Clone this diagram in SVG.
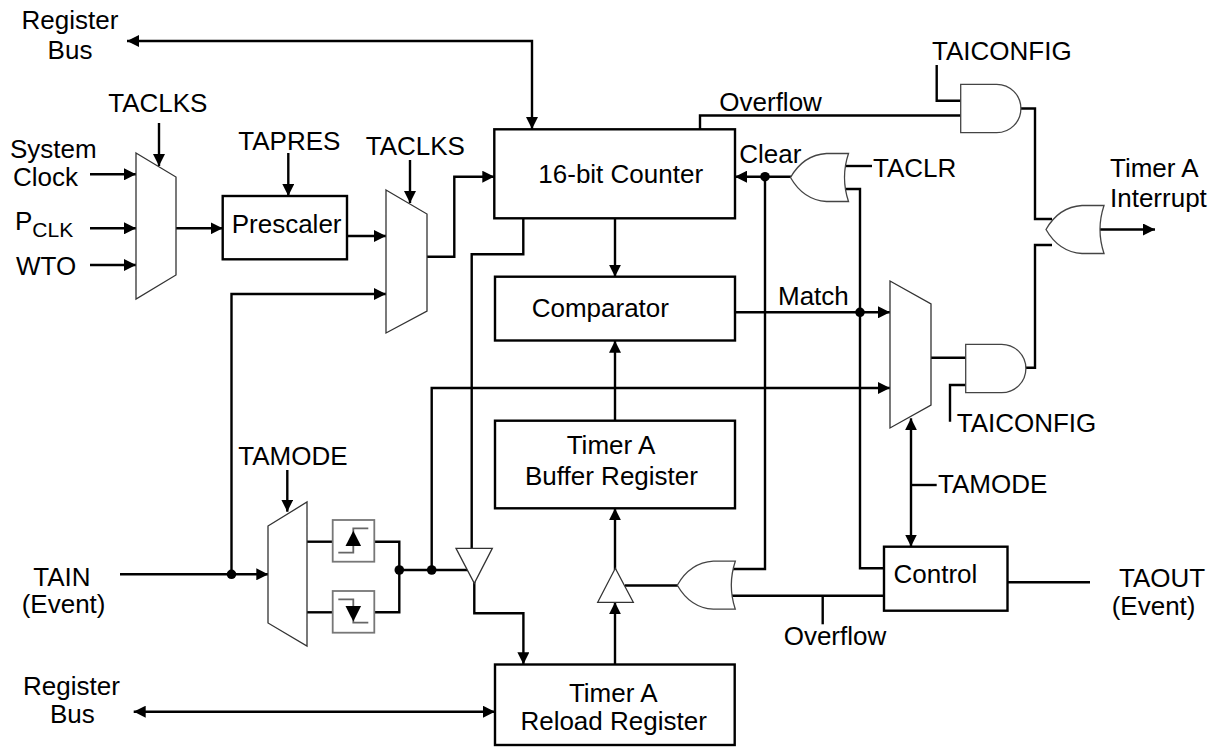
<svg xmlns="http://www.w3.org/2000/svg" width="1218" height="747" viewBox="0 0 1218 747">
<style>
.ln{fill:none;stroke:#000;stroke-width:2.4}
.box{fill:#fff;stroke:#000;stroke-width:2.4}
.thin{fill:#fff;stroke:#333;stroke-width:1.3}
.gate{fill:#fff;stroke:#444;stroke-width:1.3}
.edge{fill:#fff;stroke:#777;stroke-width:1.8}
.step{fill:none;stroke:#666;stroke-width:1.8}
.dot{fill:#000}
text{font-family:"Liberation Sans",Arial,sans-serif;font-size:26px;fill:#000}
</style>
<defs>
<marker id="ah" viewBox="0 0 12 12" refX="12" refY="6" markerWidth="12" markerHeight="12" markerUnits="userSpaceOnUse" orient="auto-start-reverse"><path d="M0,0 L12,6 L0,12 z" fill="#000"/></marker>
<path id="org" d="M0,0 C8,-14 20,-23 36,-24 L58,-24 Q50,0 58,24 L36,24 C20,23 8,14 0,0 Z"/>
<path id="andg" d="M0,0 H36 A24.2,24.2 0 0 1 36,48.4 H0 Z"/>
</defs>

<g id="connectors">
<path class="ln" d="M127,41 H532 V129" marker-start="url(#ah)" marker-end="url(#ah)"/>
<path class="ln" d="M159,123 V166" marker-end="url(#ah)"/>
<path class="ln" d="M90,174.3 H136" marker-end="url(#ah)"/>
<path class="ln" d="M90,228.3 H136" marker-end="url(#ah)"/>
<path class="ln" d="M90,265 H136" marker-end="url(#ah)"/>
<path class="ln" d="M176,228.3 H222.7" marker-end="url(#ah)"/>
<path class="ln" d="M288.3,153 V196" marker-end="url(#ah)"/>
<path class="ln" d="M347,236 H386" marker-end="url(#ah)"/>
<path class="ln" d="M410,160 V203" marker-end="url(#ah)"/>
<path class="ln" d="M231.5,574.3 V294 H386" marker-end="url(#ah)"/>
<path class="ln" d="M427,256.7 H454.3 V176.7 H494.3" marker-end="url(#ah)"/>
<path class="ln" d="M615,218.3 V276.7" marker-end="url(#ah)"/>
<path class="ln" d="M523.3,218.3 V254.3 H471.7 V552"/>
<path class="ln" d="M615,420.7 V340.7" marker-end="url(#ah)"/>
<path class="ln" d="M700,129.3 V115.5 H962"/>
<path class="ln" d="M936.7,65 V100.7 H962"/>
<path class="ln" d="M1018,108.5 H1035 V219 H1052"/>
<path class="ln" d="M1022,367.7 H1035 V245 H1052"/>
<path class="ln" d="M1098,229.5 H1155" marker-end="url(#ah)"/>
<path class="ln" d="M792,176.7 H735" marker-end="url(#ah)"/>
<path class="ln" d="M765,176.7 V569 H730"/>
<path class="ln" d="M843,166 H872"/>
<path class="ln" d="M843,189 H860 V568.3 H884"/>
<path class="ln" d="M735,312.3 H890" marker-end="url(#ah)"/>
<path class="ln" d="M431.7,570 V388 H890" marker-end="url(#ah)"/>
<path class="ln" d="M928,357.7 H968"/>
<path class="ln" d="M968,385 H950 V421.7"/>
<path class="ln" d="M911,418.3 V546.5" marker-start="url(#ah)" marker-end="url(#ah)"/>
<path class="ln" d="M911,485 H936.7"/>
<path class="ln" d="M120,574.3 H268.3" marker-end="url(#ah)"/>
<path class="ln" d="M287.3,470 V511.7" marker-end="url(#ah)"/>
<path class="ln" d="M305,541.7 H334"/>
<path class="ln" d="M305,612.3 H334"/>
<path class="ln" d="M373,541.7 H399.3 V612.3 H373"/>
<path class="ln" d="M399.3,570 H470"/>
<path class="ln" d="M474.3,580 V613.3 H523.4 V664.3" marker-end="url(#ah)"/>
<path class="ln" d="M615,664.3 V602.3" marker-end="url(#ah)"/>
<path class="ln" d="M615,570 V508.3" marker-end="url(#ah)"/>
<path class="ln" d="M680,585.5 H625"/>
<path class="ln" d="M730,595.7 H884"/>
<path class="ln" d="M822.7,595.7 V624.3"/>
<path class="ln" d="M1007.3,582.3 H1090"/>
<path class="ln" d="M133.7,711.7 H494.9" marker-start="url(#ah)" marker-end="url(#ah)"/>
<circle class="dot" cx="765" cy="176.7" r="4.8"/>
<circle class="dot" cx="860" cy="312.3" r="4.8"/>
<circle class="dot" cx="231.5" cy="574.3" r="4.8"/>
<circle class="dot" cx="399.3" cy="570" r="4.8"/>
<circle class="dot" cx="431.7" cy="570" r="4.8"/>
</g>

<g id="mux-clk"><polygon class="thin" points="136,153 176,177 176,275 136,299"/></g>
<g id="prescaler"><rect class="box" x="222.7" y="196" width="124.3" height="63.3"/><text x="231.7" y="233.3">Prescaler</text></g>
<g id="mux-cnt"><polygon class="thin" points="386,190 427,214 427,311 386,333"/></g>
<g id="counter"><rect class="box" x="494.3" y="129.3" width="240.7" height="89"/><text x="538.3" y="182.7">16-bit Counter</text></g>
<g id="comparator"><rect class="box" x="495" y="276.7" width="240" height="63.8"/><text x="531.7" y="316.7">Comparator</text></g>
<g id="buffer-reg"><rect class="box" x="495" y="420.7" width="240" height="87.6"/><text x="566.7" y="454">Timer A</text><text x="525" y="485">Buffer Register</text></g>
<g id="reload-reg"><rect class="box" x="495" y="664.5" width="239.7" height="80.5"/><text x="568.9" y="701.7">Timer A</text><text x="520.4" y="730">Reload Register</text></g>
<g id="control"><rect class="box" x="884" y="546.7" width="123.5" height="64"/><text x="893.5" y="583.3">Control</text></g>
<g id="mux-int"><polygon class="thin" points="890,281 931,304 931,405 890,428"/></g>
<g id="mux-mode"><polygon class="thin" points="268,526 307,502 307,646 268,623"/></g>
<g id="and-ovf"><use href="#andg" class="gate" x="960.7" y="84.3"/></g>
<g id="and-match"><use href="#andg" class="gate" x="965.7" y="344.3"/></g>
<g id="or-clear"><use href="#org" class="gate" transform="translate(790.5,177.5)"/></g>
<g id="or-reload"><use href="#org" class="gate" transform="translate(677.3,585.2)"/></g>
<g id="or-int"><use href="#org" class="gate" transform="translate(1046,229.5)"/></g>
<g id="edge-rise">
<rect class="edge" x="332.7" y="520" width="41.6" height="41.7"/>
<path class="step" d="M338.3,552.7 H353.3 V528.3 H368.3"/>
<polygon points="353.3,530.7 345.5,546 361.1,546" fill="#000"/>
</g>
<g id="edge-fall">
<rect class="edge" x="332.7" y="591" width="41.6" height="41.7"/>
<path class="step" d="M338.3,599.3 H353.3 V622.7 H368.3"/>
<polygon points="345.5,606 361.1,606 353.3,621.5" fill="#000"/>
</g>
<g id="buf-capture"><polygon class="thin" points="456,548.3 492.3,548.3 474.3,583.3"/></g>
<g id="buf-reload"><polygon class="thin" points="615.3,568.3 633.3,602.3 597.7,602.3"/></g>

<g id="labels">
<text x="70" y="29.3" text-anchor="middle">Register</text>
<text x="70" y="59.3" text-anchor="middle">Bus</text>
<text x="157.8" y="111.7" text-anchor="middle">TACLKS</text>
<text x="10" y="158">System</text>
<text x="13" y="186">Clock</text>
<text x="15" y="230">P<tspan font-size="21" dy="7">CLK</tspan></text>
<text x="16" y="275">WTO</text>
<text x="238.3" y="150">TAPRES</text>
<text x="365.7" y="155">TACLKS</text>
<text x="719.3" y="110.5">Overflow</text>
<text x="739.3" y="163">Clear</text>
<text x="873" y="176.7">TACLR</text>
<text x="932" y="60">TAICONFIG</text>
<text x="1110" y="176.7">Timer A</text>
<text x="1110" y="206.7">Interrupt</text>
<text x="778" y="305">Match</text>
<text x="956.7" y="431.7">TAICONFIG</text>
<text x="938" y="493.3">TAMODE</text>
<text x="238.3" y="465">TAMODE</text>
<text x="33.3" y="585.7">TAIN</text>
<text x="21.7" y="613">(Event)</text>
<text x="783.7" y="645">Overflow</text>
<text x="1119" y="586.7">TAOUT</text>
<text x="1111.7" y="615">(Event)</text>
<text x="23" y="695">Register</text>
<text x="50" y="723.3">Bus</text>
</g>
</svg>
